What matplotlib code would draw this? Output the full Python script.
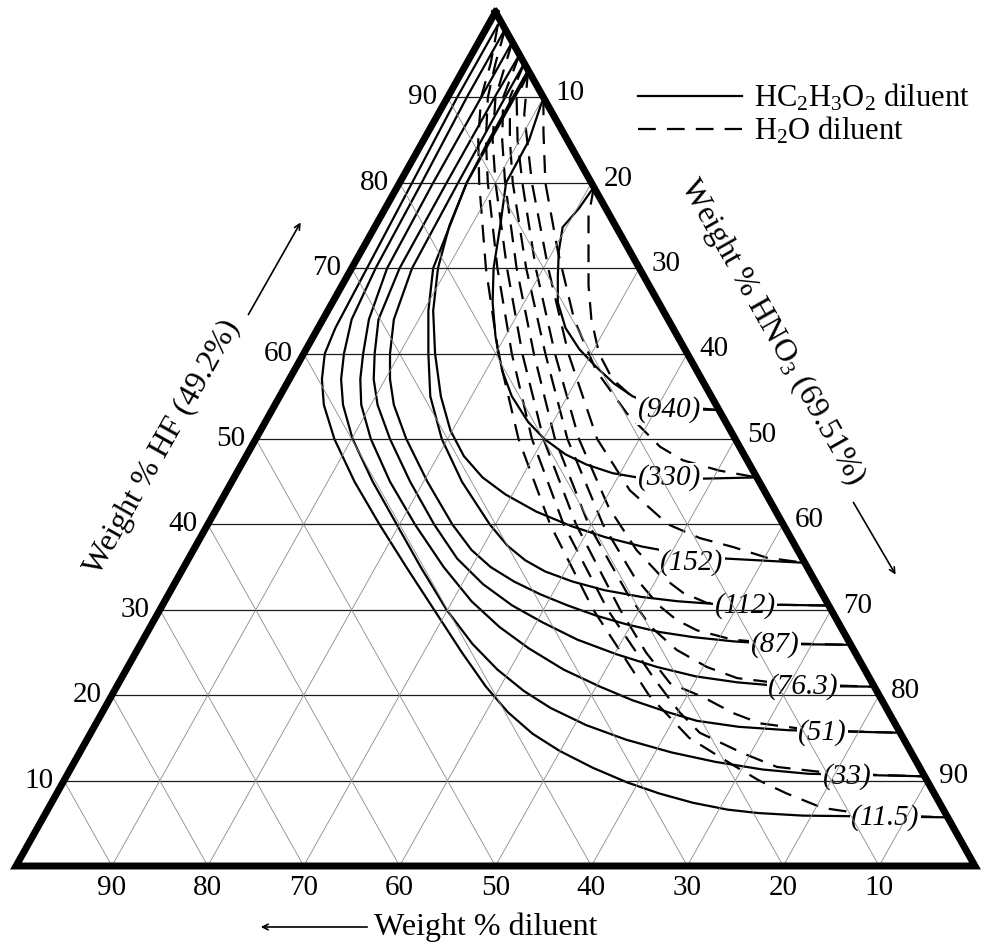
import matplotlib
matplotlib.use('Agg')
import matplotlib.pyplot as plt
from matplotlib.lines import Line2D
import numpy as np

plt.rcParams['font.family'] = 'Liberation Serif'
plt.rcParams['mathtext.fontset'] = 'custom'
plt.rcParams['mathtext.rm'] = 'Liberation Serif'
plt.rcParams['mathtext.it'] = 'Liberation Serif:italic'

# side scales (weight %)
hf_ticks = [10, 20, 30, 40, 50, 60, 70, 80, 90]
hno3_ticks = [10, 20, 30, 40, 50, 60, 70, 80, 90]
diluent_ticks = [90, 80, 70, 60, 50, 40, 30, 20, 10]

# etch rate of each iso-rate curve
rates = ['11.5', '33', '51', '76.3', '87', '112', '152', '330', '940']

# HC2H3O2 diluent curves: weight % HF and weight % diluent along the curve
hf_acid_11 = [98.5, 90, 80, 70, 63, 60, 57, 54, 50, 45, 40, 35, 30, 25, 21, 18, 15.5, 13.5, 11.5, 9.8, 8.5, 7.4, 6.6, 6.2, 5.9, 5.7]
dil_acid_11 = [0.5, 9, 18.7, 28.4, 35.2, 37.8, 39.6, 40.9, 41.8, 42.2, 42.1, 41.8, 41.4, 41, 40.5, 39.7, 38.4, 36.6, 34.1, 31.4, 28.7, 25.7, 22.5, 19.5, 15, 0]
hf_acid_33 = [98, 90, 80, 70, 64, 60, 57, 54, 50, 45, 40, 35, 30, 26, 23, 20.5, 18.5, 16.5, 14.8, 13.3, 12.2, 11.3, 10.8, 10.5]
dil_acid_33 = [0, 8, 17.7, 27.5, 33, 35.8, 37.6, 38.9, 39.9, 40.3, 40.3, 40.3, 40.1, 39.4, 38.3, 36.8, 35, 32.3, 29, 25, 21, 16.5, 12, 0]
hf_acid_51 = [96.5, 90, 80, 70, 64, 60, 57, 54, 50, 45, 40, 35, 31, 28, 25.5, 23, 21, 19.4, 18, 17, 16.3, 15.9, 15.6]
dil_acid_51 = [0, 6.5, 16.5, 26.3, 31.2, 33.8, 35.6, 37, 38, 38.5, 38.4, 37.9, 37, 35.6, 33.8, 31.4, 28.6, 26, 23, 20.5, 16.5, 11.5, 0]
hf_acid_76 = [95, 90, 80, 70, 64, 60, 57, 54, 50, 45, 40, 36, 33, 30.5, 28.5, 26.5, 24.8, 23.3, 22.2, 21.5, 21.1, 21]
dil_acid_76 = [0, 5.1, 15.1, 25, 30.2, 32.6, 34.2, 35.3, 36, 36.4, 36.4, 36, 34.8, 33, 30.8, 28.2, 25, 21.5, 18, 14, 10, 0]
hf_acid_87 = [94, 90, 80, 70, 64, 60, 57, 54, 50, 45, 40, 37, 35, 33.3, 31.8, 30.5, 29.3, 28.3, 27.4, 26.8, 26.3, 26, 25.9]
dil_acid_87 = [0, 4, 13.9, 23.7, 28.6, 31, 32.5, 33.6, 34.3, 34.6, 34.5, 34, 33, 31.4, 29.4, 27.2, 24.8, 22.2, 19.2, 16, 12, 8, 0]
hf_acid_112 = [93, 90, 80, 70, 65, 60, 55, 50, 45, 40, 37.5, 35.8, 34.5, 33.3, 32.3, 31.5, 31, 30.7, 30.5]
dil_acid_112 = [0, 3, 13, 21.5, 24.5, 27, 29.3, 30.6, 31, 30.6, 30, 29, 27.6, 25.3, 22.5, 19, 15.5, 12, 0]
hf_acid_152 = [93.2, 85, 80, 75, 70, 65, 60, 55, 51, 48, 45.5, 43.5, 41.5, 39.8, 38.5, 37.4, 36.6, 36, 35.5]
dil_acid_152 = [0, 8.2, 13, 17.3, 21, 24, 26.3, 28.2, 29.2, 29.3, 28.6, 27.2, 25, 22.2, 19.3, 16, 12.5, 8, 0]
hf_acid_330 = [90, 85, 80, 75, 70, 66, 62, 58, 55, 52, 50, 48.2, 47, 46, 45.4, 45.3, 45.5]
dil_acid_330 = [0, 4, 8.9, 12, 15.2, 17.3, 19, 20.3, 20.8, 20.6, 19.9, 18.6, 17, 14.8, 12, 8, 0]
hf_acid_940 = [79.5, 77, 74.8, 72, 69, 66, 63, 60.5, 58.5, 56.5, 55, 54, 53.5, 53.4]
dil_acid_940 = [0, 2.8, 5.6, 7.4, 9, 10.5, 11.2, 11, 10.3, 9.4, 8.2, 6.5, 4, 0]

# H2O diluent curves
hf_water_11 = [98.5, 94, 90, 85, 80, 70, 60, 50, 40, 30, 20, 15, 12, 10, 8.5, 6.8, 6.0, 5.7]
dil_water_11 = [0.5, 3.5, 6.5, 9.3, 11.7, 16, 19.7, 22.6, 24.3, 24.8, 24, 22.3, 19.5, 17.5, 15.4, 12.5, 8, 0]
hf_water_33 = [98, 94, 90, 85, 80, 70, 60, 50, 40, 30, 22, 18, 15.6, 13.2, 11.6, 10.8, 10.5]
dil_water_33 = [0, 3, 5.8, 8.5, 10.8, 14.8, 18.3, 21.2, 22.9, 23.3, 22.5, 21.8, 20.9, 17.6, 14.85, 9, 0]
hf_water_51 = [96.5, 90, 85, 80, 70, 60, 50, 40, 30, 25, 21.4, 19.8, 17.9, 16.7, 15.9, 15.6]
dil_water_51 = [0, 5, 7.8, 10, 13.8, 17.2, 20, 21.6, 22, 21.8, 21.1, 18.5, 16.25, 14.05, 9, 0]
hf_water_76 = [95, 90, 85, 80, 70, 60, 50, 40, 32, 28, 25.3, 23.3, 22, 21.3, 21]
dil_water_76 = [0, 4.2, 6.8, 9, 12.8, 16, 18.8, 20.3, 20.3, 19.8, 18.45, 16.3, 13.8, 9, 0]
hf_water_87 = [94, 90, 85, 80, 70, 60, 50, 40, 34, 30.5, 28.8, 27.6, 26.5, 26.1, 25.9]
dil_water_87 = [0, 3.5, 6, 8.2, 11.8, 14.8, 17.5, 18.8, 18.6, 17.7, 16.7, 15.2, 12, 8, 0]
hf_water_112 = [93, 90, 85, 80, 70, 60, 50, 42, 37, 34, 32, 30.8, 30.6, 30.5]
dil_water_112 = [0, 2.8, 5.2, 7.2, 10.8, 13.8, 16.3, 17.2, 16.8, 15.8, 14.45, 12.55, 6, 0]
hf_water_152 = [93.2, 88, 80, 70, 60, 50, 44, 40, 38.4, 37.35, 36.1, 35.5]
dil_water_152 = [0, 3, 6.2, 9.5, 12.4, 14.4, 14, 12, 9.5, 6.55, 3.65, 0]
hf_water_330 = [90, 86, 80, 72, 64, 58, 53, 49.1, 47.5, 46.3, 45.5]
dil_water_330 = [0, 2, 4.8, 7.5, 9.8, 10.5, 9.8, 8.3, 6.7, 3.5, 0]
hf_water_940 = [79.5, 76, 72, 68, 64, 60, 57, 55, 54, 53.4]
dil_water_940 = [0, 2.3, 4.3, 6.3, 8, 9.2, 9.3, 8.3, 6.5, 0]

acid_curves = [(hf_acid_11, dil_acid_11), (hf_acid_33, dil_acid_33), (hf_acid_51, dil_acid_51),
               (hf_acid_76, dil_acid_76), (hf_acid_87, dil_acid_87), (hf_acid_112, dil_acid_112),
               (hf_acid_152, dil_acid_152), (hf_acid_330, dil_acid_330), (hf_acid_940, dil_acid_940)]
water_curves = [(hf_water_11, dil_water_11), (hf_water_33, dil_water_33), (hf_water_51, dil_water_51),
                (hf_water_76, dil_water_76), (hf_water_87, dil_water_87), (hf_water_112, dil_water_112),
                (hf_water_152, dil_water_152), (hf_water_330, dil_water_330), (hf_water_940, dil_water_940)]


def tern(hf, dil):
    # HF at the apex, HNO3 at the lower right, diluent at the lower left
    hf = np.asarray(hf, dtype=float)
    dil = np.asarray(dil, dtype=float)
    hno3 = 100 - hf - dil
    return hno3 + hf / 2, hf


fig = plt.figure(figsize=(9.91, 9.44), dpi=100)
ax = fig.add_axes([0, 0, 1, 1])
ax.set_xlim(-16 / 9.59, 975 / 9.59)
ax.set_ylim((866 - 944) / 8.54, 866 / 8.54)
ax.axis('off')

# grid
for v in hf_ticks:
    x, y = tern([v, v], [100 - v, 0])
    ax.plot(x, y, color='#1a1a1a', lw=0.9, zorder=4)
    x, y = tern([100 - v, 0], [v, v])
    ax.plot(x, y, color='#8a8a8a', lw=0.6, zorder=4)
    x, y = tern([100 - v, 0], [0, 100 - v])
    ax.plot(x, y, color='#8a8a8a', lw=0.6, zorder=4)

# frame
x, y = tern([100, 0, 0, 100], [0, 100, 0, 0])
ax.plot(x, y, color='black', lw=5, solid_joinstyle='miter', zorder=5)

# curves
for hf, dil in acid_curves:
    x, y = tern(hf, dil)
    ax.plot(x, y, color='black', lw=1.6, solid_joinstyle='round', zorder=2)
for hf, dil in water_curves:
    x, y = tern(hf, dil)
    ax.plot(x, y, color='black', lw=1.6, linestyle=(0, (8, 5)), zorder=2)

# rate labels near the HNO3 side
label_dil = [6.5, 8.1, 8.1, 7.4, 7.9, 8.7, 11.75, 9.1, 5.15]
for r, (hf, dil), d in zip(rates, acid_curves, label_dil):
    x, y = tern(hf[-1], d)
    ax.text(x, y, '(' + r + ')', fontsize=21, style='italic', ha='center', va='center', zorder=3,
            bbox=dict(boxstyle='square,pad=0.05', fc='white', ec='none'))

# tick labels
for v in hf_ticks:
    x, y = tern(v, 100 - v)
    ax.annotate(str(v), (x, y), xytext=(-18, 0), textcoords='offset points',
                ha='center', va='center', fontsize=21)
for v in hno3_ticks:
    x, y = tern(100 - v, 0)
    ax.annotate(str(v), (x, y), xytext=(19, 3), textcoords='offset points',
                ha='center', va='center', fontsize=21)
for v in diluent_ticks:
    x, y = tern(0, v)
    ax.annotate(str(v), (x, y), xytext=(0, -16), textcoords='offset points',
                ha='center', va='center', fontsize=21)

# axis titles and arrows
ax.annotate('Weight % HF (49.2%)', (163, 944 - 448), xycoords='figure pixels',
            rotation=60.7, ha='center', va='center', fontsize=23)
ax.annotate('', xy=(302, 944 - 220), xytext=(247, 944 - 317), xycoords='figure pixels',
            arrowprops=dict(arrowstyle='->', color='black', lw=1.2))
ax.annotate('Weight % HNO$_3$ (69.51%)', (772, 944 - 332), xycoords='figure pixels',
            rotation=-60.5, ha='center', va='center', fontsize=23)
ax.annotate('', xy=(897, 944 - 577), xytext=(852, 944 - 500), xycoords='figure pixels',
            arrowprops=dict(arrowstyle='->', color='black', lw=1.2))
ax.annotate('Weight % diluent', (486, 944 - 927), xycoords='figure pixels',
            ha='center', va='center', fontsize=23)
ax.annotate('', xy=(258, 944 - 927), xytext=(370, 944 - 927), xycoords='figure pixels',
            arrowprops=dict(arrowstyle='->', color='black', lw=1.2))

# legend
handles = [Line2D([], [], color='black', lw=1.6),
           Line2D([], [], color='black', lw=1.6, linestyle=(0, (8, 5)))]
fig.legend(handles, ['HC$_2$H$_3$O$_2$ diluent', 'H$_2$O diluent'], loc='upper left',
           bbox_to_anchor=(638 / 991, 1 - 82 / 944), frameon=False, fontsize=22,
           handlelength=3.4, handletextpad=0.4, labelspacing=0.05, borderpad=0, borderaxespad=0)

fig.savefig('out.png', dpi=100)
